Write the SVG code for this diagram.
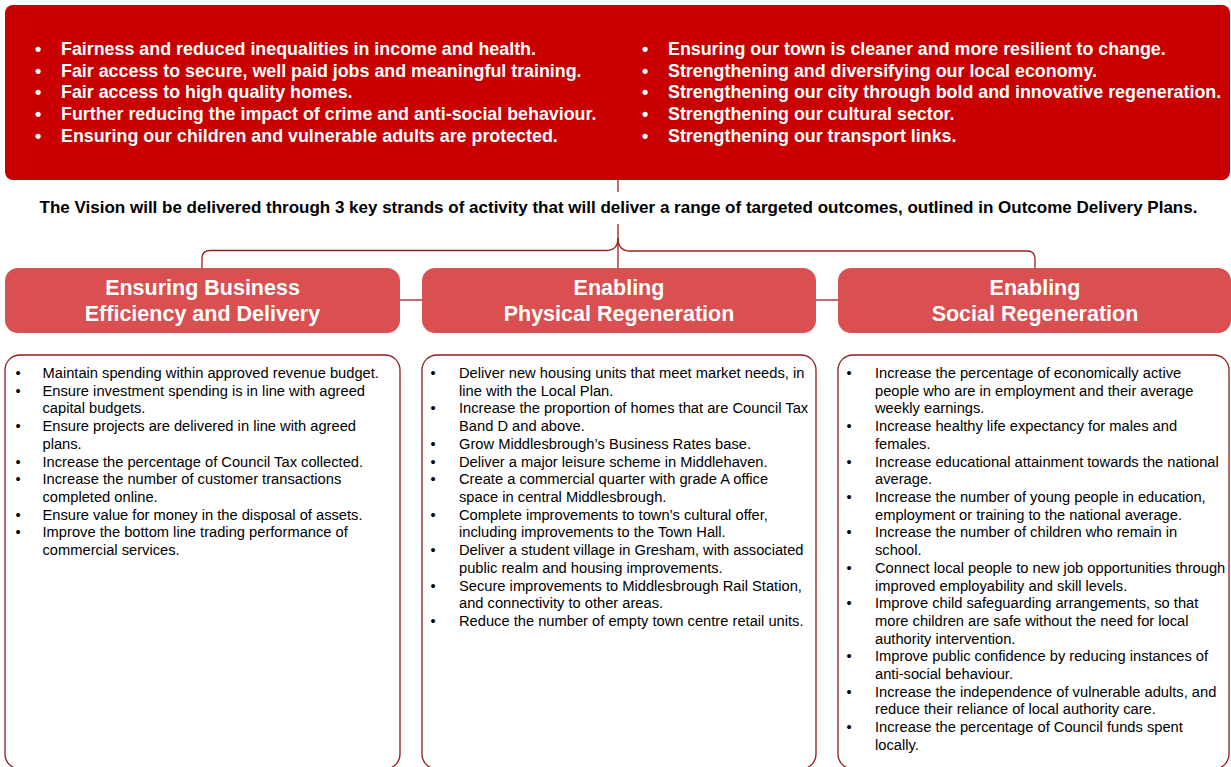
<svg xmlns="http://www.w3.org/2000/svg" width="1231" height="767" viewBox="0 0 1231 767">
  <style>
    .banner { fill: #C80000; }
    .head { fill: #DA4F50; }
    .card { fill: #FFFFFF; stroke: #8E1B1F; stroke-width: 1.3; }
    .link { fill: none; stroke: #9A1F24; stroke-width: 1.3; }
    .vision { font-family: "Liberation Sans", Arial, sans-serif; font-weight: bold; font-size: 17.85px; fill: #FFFFFF; }
    .sub { font-family: "Liberation Sans", Arial, sans-serif; font-weight: bold; font-size: 17px; fill: #000000; }
    .title { font-family: "Liberation Sans", Arial, sans-serif; font-weight: bold; font-size: 21.5px; fill: #FFFFFF; text-anchor: middle; }
    .item { font-family: "Liberation Sans", Arial, sans-serif; font-size: 14.7px; fill: #000000; }
    .dot { text-anchor: middle; }
  </style>
  <rect width="1231" height="767" fill="#FFFFFF"/>

  <!-- connectors -->
  <g id="connectors">
    <path class="link" d="M618,180 V192"/>
    <path class="link" d="M618,224 V268"/>
    <path class="link" d="M618,238 C618,246 614,250.5 606,250.5 H210 Q202,250.5 202,258.5 V268"/>
    <path class="link" d="M618,238 C618,246 622,251 630,251 H1027 Q1035,251 1035,259 V268"/>
    <path class="link" d="M400,300 H422"/>
    <path class="link" d="M816,300 H838"/>
  </g>

  <!-- vision banner -->
  <g id="vision">
    <rect class="banner" x="5" y="5" width="1225" height="175" rx="8"/>
    <text class="vision dot"><tspan x="38" y="55">•</tspan><tspan x="38" y="76.7">•</tspan><tspan x="38" y="98.3">•</tspan><tspan x="38" y="120">•</tspan><tspan x="38" y="141.7">•</tspan></text>
    <text class="vision">
      <tspan x="61" y="55">Fairness and reduced inequalities in income and health.</tspan>
      <tspan x="61" y="76.7">Fair access to secure, well paid jobs and meaningful training.</tspan>
      <tspan x="61" y="98.3">Fair access to high quality homes.</tspan>
      <tspan x="61" y="120">Further reducing the impact of crime and anti-social behaviour.</tspan>
      <tspan x="61" y="141.7">Ensuring our children and vulnerable adults are protected.</tspan>
    </text>
    <text class="vision dot"><tspan x="645" y="55">•</tspan><tspan x="645" y="76.7">•</tspan><tspan x="645" y="98.3">•</tspan><tspan x="645" y="120">•</tspan><tspan x="645" y="141.7">•</tspan></text>
    <text class="vision">
      <tspan x="668" y="55">Ensuring our town is cleaner and more resilient to change.</tspan>
      <tspan x="668" y="76.7">Strengthening and diversifying our local economy.</tspan>
      <tspan x="668" y="98.3">Strengthening our city through bold and innovative regeneration.</tspan>
      <tspan x="668" y="120">Strengthening our cultural sector.</tspan>
      <tspan x="668" y="141.7">Strengthening our transport links.</tspan>
    </text>
  </g>

  <g id="strapline">
    <text class="sub" x="618.5" y="213" text-anchor="middle">The Vision will be delivered through 3 key strands of activity that will deliver a range of targeted outcomes, outlined in Outcome Delivery Plans.</text>
  </g>

  <!-- strand headings -->
  <g id="strand-business">
    <rect class="head" x="5" y="268" width="395" height="65" rx="13"/>
    <text class="title"><tspan x="202.5" y="295">Ensuring Business</tspan><tspan x="202.5" y="321">Efficiency and Delivery</tspan></text>
  </g>
  <g id="strand-physical">
    <rect class="head" x="422" y="268" width="394" height="65" rx="13"/>
    <text class="title"><tspan x="619" y="295">Enabling</tspan><tspan x="619" y="321">Physical Regeneration</tspan></text>
  </g>
  <g id="strand-social">
    <rect class="head" x="838" y="268" width="393" height="65" rx="13"/>
    <text class="title"><tspan x="1035" y="295">Enabling</tspan><tspan x="1035" y="321">Social Regeneration</tspan></text>
  </g>

  <!-- outcome lists -->
  <g id="outcomes-business">
    <rect class="card" x="5" y="355" width="395" height="414" rx="15"/>
    <text class="item dot"><tspan x="18" y="378">•</tspan><tspan x="18" y="395.7">•</tspan><tspan x="18" y="431.1">•</tspan><tspan x="18" y="466.6">•</tspan><tspan x="18" y="484.3">•</tspan><tspan x="18" y="519.7">•</tspan><tspan x="18" y="537.4">•</tspan></text>
    <text class="item">
      <tspan x="42.5" y="378">Maintain spending within approved revenue budget.</tspan>
      <tspan x="42.5" y="395.7">Ensure investment spending is in line with agreed</tspan>
      <tspan x="42.5" y="413.4">capital budgets.</tspan>
      <tspan x="42.5" y="431.1">Ensure projects are delivered in line with agreed</tspan>
      <tspan x="42.5" y="448.8">plans.</tspan>
      <tspan x="42.5" y="466.6">Increase the percentage of Council Tax collected.</tspan>
      <tspan x="42.5" y="484.3">Increase the number of customer transactions</tspan>
      <tspan x="42.5" y="502">completed online.</tspan>
      <tspan x="42.5" y="519.7">Ensure value for money in the disposal of assets.</tspan>
      <tspan x="42.5" y="537.4">Improve the bottom line trading performance of</tspan>
      <tspan x="42.5" y="555.1">commercial services.</tspan>
    </text>
  </g>

  <g id="outcomes-physical">
    <rect class="card" x="422" y="355" width="394" height="414" rx="15"/>
    <text class="item dot"><tspan x="433" y="378">•</tspan><tspan x="433" y="413.4">•</tspan><tspan x="433" y="448.8">•</tspan><tspan x="433" y="466.6">•</tspan><tspan x="433" y="484.3">•</tspan><tspan x="433" y="519.7">•</tspan><tspan x="433" y="555.1">•</tspan><tspan x="433" y="590.5">•</tspan><tspan x="433" y="625.9">•</tspan></text>
    <text class="item">
      <tspan x="459" y="378">Deliver new housing units that meet market needs, in</tspan>
      <tspan x="459" y="395.7">line with the Local Plan.</tspan>
      <tspan x="459" y="413.4">Increase the proportion of homes that are Council Tax</tspan>
      <tspan x="459" y="431.1">Band D and above.</tspan>
      <tspan x="459" y="448.8">Grow Middlesbrough’s Business Rates base.</tspan>
      <tspan x="459" y="466.6">Deliver a major leisure scheme in Middlehaven.</tspan>
      <tspan x="459" y="484.3">Create a commercial quarter with grade A office</tspan>
      <tspan x="459" y="502">space in central Middlesbrough.</tspan>
      <tspan x="459" y="519.7">Complete improvements to town’s cultural offer,</tspan>
      <tspan x="459" y="537.4">including improvements to the Town Hall.</tspan>
      <tspan x="459" y="555.1">Deliver a student village in Gresham, with associated</tspan>
      <tspan x="459" y="572.8">public realm and housing improvements.</tspan>
      <tspan x="459" y="590.5">Secure improvements to Middlesbrough Rail Station,</tspan>
      <tspan x="459" y="608.2">and connectivity to other areas.</tspan>
      <tspan x="459" y="625.9">Reduce the number of empty town centre retail units.</tspan>
    </text>
  </g>

  <g id="outcomes-social">
    <rect class="card" x="838" y="355" width="391" height="414" rx="15"/>
    <text class="item dot"><tspan x="849" y="378">•</tspan><tspan x="849" y="431.1">•</tspan><tspan x="849" y="466.6">•</tspan><tspan x="849" y="502">•</tspan><tspan x="849" y="537.4">•</tspan><tspan x="849" y="572.8">•</tspan><tspan x="849" y="608.2">•</tspan><tspan x="849" y="661.3">•</tspan><tspan x="849" y="696.7">•</tspan><tspan x="849" y="732.1">•</tspan></text>
    <text class="item">
      <tspan x="875" y="378">Increase the percentage of economically active</tspan>
      <tspan x="875" y="395.7">people who are in employment and their average</tspan>
      <tspan x="875" y="413.4">weekly earnings.</tspan>
      <tspan x="875" y="431.1">Increase healthy life expectancy for males and</tspan>
      <tspan x="875" y="448.8">females.</tspan>
      <tspan x="875" y="466.6">Increase educational attainment towards the national</tspan>
      <tspan x="875" y="484.3">average.</tspan>
      <tspan x="875" y="502">Increase the number of young people in education,</tspan>
      <tspan x="875" y="519.7">employment or training to the national average.</tspan>
      <tspan x="875" y="537.4">Increase the number of children who remain in</tspan>
      <tspan x="875" y="555.1">school.</tspan>
      <tspan x="875" y="572.8">Connect local people to new job opportunities through</tspan>
      <tspan x="875" y="590.5">improved employability and skill levels.</tspan>
      <tspan x="875" y="608.2">Improve child safeguarding arrangements, so that</tspan>
      <tspan x="875" y="625.9">more children are safe without the need for local</tspan>
      <tspan x="875" y="643.6">authority intervention.</tspan>
      <tspan x="875" y="661.3">Improve public confidence by reducing instances of</tspan>
      <tspan x="875" y="679">anti-social behaviour.</tspan>
      <tspan x="875" y="696.7">Increase the independence of vulnerable adults, and</tspan>
      <tspan x="875" y="714.4">reduce their reliance of local authority care.</tspan>
      <tspan x="875" y="732.1">Increase the percentage of Council funds spent</tspan>
      <tspan x="875" y="749.8">locally.</tspan>
    </text>
  </g>
</svg>
